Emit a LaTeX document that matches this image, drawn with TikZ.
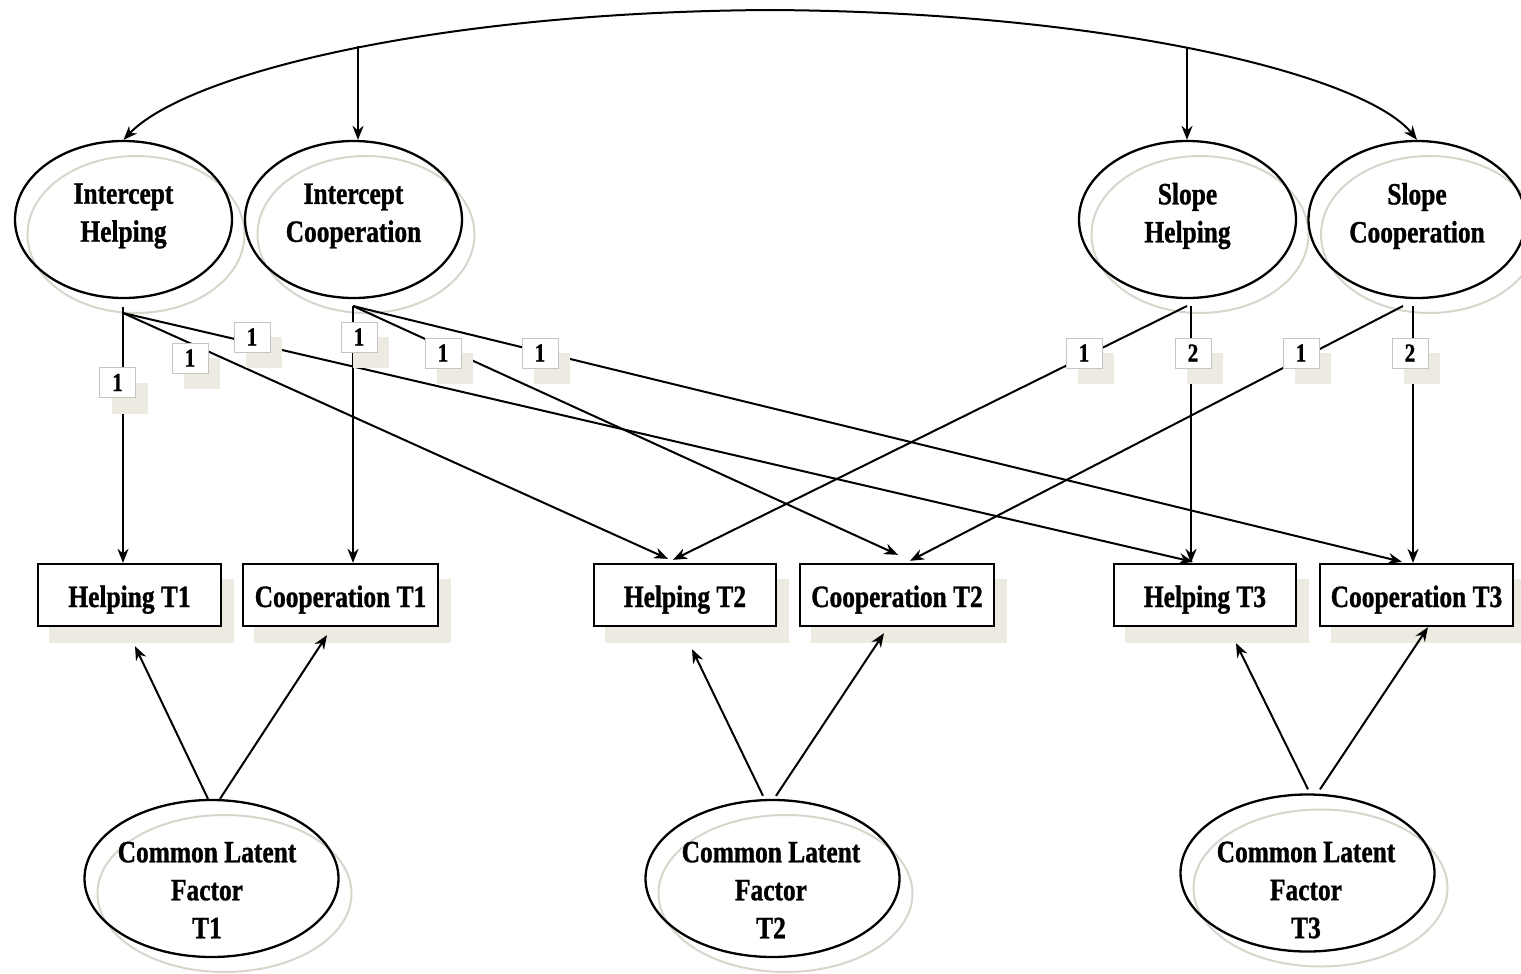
\documentclass[tikz,border=0pt]{standalone}
\usepackage{fontspec}
\newfontfamily\dfont[FakeStretch=0.82,FakeBold=1]{Liberation Serif}
\usetikzlibrary{arrows.meta,shapes.geometric,calc,backgrounds}
\definecolor{shadebg}{HTML}{ECEAE1}
\definecolor{shadeline}{HTML}{D8D6CC}
\definecolor{lblborder}{HTML}{C4C4C4}
\begin{document}
\begin{tikzpicture}[x=1pt,y=-1pt,
  lat/.style={ellipse, draw, line width=2.3pt, minimum width=217pt, minimum height=157pt, inner sep=0pt},
  clf/.style={lat, minimum width=254pt},
  txt/.style={align=center, font=\dfont\bfseries\fontsize{31}{38}\selectfont, inner sep=0pt},
  obs/.style={rectangle, draw, line width=2.3pt, fill=white, minimum height=62pt, inner sep=0pt, text height=24pt, text depth=0pt, font=\dfont\bfseries\fontsize{31}{38}\selectfont},
  arr/.style={line width=2pt, -{Stealth[length=14pt,width=11pt]}},
  lbl/.style={rectangle, draw=lblborder, line width=0.8pt, fill=white, minimum width=36pt, minimum height=30pt, inner sep=0pt, font=\dfont\bfseries\fontsize{26}{30}\selectfont},
  lshadow/.style={fill=shadebg},
  eshadow/.style={draw=shadeline, line width=2pt},
]
\useasboundingbox (0,0) rectangle (1521,974);

% latent ellipses (top)
\node[lat] (IH) at (123.5,219.5) {};
\node[lat] (IC) at (353.5,219.5) {};
\node[lat] (SH) at (1187.5,219.5) {};
\node[lat] (SC) at (1417,219.5) {};
\node[txt] (IHt) at ([yshift=3.5pt]IH.center) {Intercept\\Helping};
\node[txt] (ICt) at ([yshift=3.5pt]IC.center) {Intercept\\Cooperation};
\node[txt] (SHt) at ([yshift=3.5pt]SH.center) {Slope\\Helping};
\node[txt] (SCt) at ([yshift=3.5pt]SC.center) {Slope\\Cooperation};

% common latent factors
\node[clf] (CLF1) at (211.5,878.5) {};
\node[clf] (CLF2) at (772.5,878.5) {};
\node[clf] (CLF3) at (1307.5,873) {};
\node[txt] (CLF1t) at (207,890) {Common Latent\\Factor\\T1};
\node[txt] (CLF2t) at (771,890) {Common Latent\\Factor\\T2};
\node[txt] (CLF3t) at (1306,890) {Common Latent\\Factor\\T3};

% observed
\node[obs, minimum width=183pt] (HT1) at (129.5,595) {Helping T1};
\node[obs, minimum width=195pt] (CT1) at (340.5,595) {Cooperation T1};
\node[obs, minimum width=182pt] (HT2) at (685,595) {Helping T2};
\node[obs, minimum width=194pt] (CT2) at (897,595) {Cooperation T2};
\node[obs, minimum width=182pt] (HT3) at (1205,595) {Helping T3};
\node[obs, minimum width=193pt] (CT3) at (1416.5,595) {Cooperation T3};

\begin{pgfonlayer}{background}
  \fill[white] (0,0) rectangle (1521,974);
  \foreach \n in {HT1,CT1,HT2,CT2,HT3,CT3}
    \fill[shadebg] ($(\n.south west)+(12,16)$) rectangle ($(\n.north east)+(12,16)$);
  \foreach \n in {IH,IC,SH,SC}
    \draw[eshadow] ($(\n.center)+(12.5,15)$) ellipse [x radius=108.5pt, y radius=78.5pt];
  \foreach \n in {CLF1,CLF2,CLF3}
    \draw[eshadow] ($(\n.center)+(13,15)$) ellipse [x radius=127pt, y radius=78.5pt];
\end{pgfonlayer}

% covariance curve
\draw[line width=2pt, {Stealth[length=14pt,width=11pt]}-{Stealth[length=14pt,width=11pt]}]
  (IH.north) .. controls (185,75) and (430,12) .. (770,10)
  .. controls (1110,12) and (1365,75) .. (SC.north);
\coordinate (c1) at (358,46);
\coordinate (c2) at (1187,47);
\draw[arr] (c1) -- (c1 |- IC.north);
\draw[arr] (c2) -- (c2 |- SH.north);

% loading origins
\coordinate (IHo) at (123,307);
\coordinate (IHs) at (123,313);
\coordinate (ICo) at (353,306);
\coordinate (SHv) at (1191,306);
\coordinate (SHs) at (1187,306);
\coordinate (SCv) at (1413,306);
\coordinate (SCs) at (1403,306);

% loadings
\draw[arr] (IHo) -- (IHo |- HT1.north);
\draw[arr] (IHs) -- ([shift={(-17,-4)}]HT2.north);
\draw[arr] (IHs) -- ([shift={(-12,-1)}]HT3.north);
\draw[arr] (ICo) -- (ICo |- CT1.north);
\draw[arr] (ICo) -- ([shift={(1,-8)}]CT2.north);
\draw[arr] (ICo) -- ([shift={(-14.5,-1)}]CT3.north);
\draw[arr] (SHs) -- ([shift={(-12,-3)}]HT2.north);
\draw[arr] (SHv) -- (SHv |- HT3.north);
\draw[arr] (SCs) -- ([shift={(13,-2)}]CT2.north);
\draw[arr] (SCv) -- (SCv |- CT3.north);

% common latent factor arrows
\draw[arr] ([xshift=-3.5pt]CLF1.north) -- ([shift={(5.5,19)}]HT1.south);
\draw[arr] ([xshift=8.5pt]CLF1.north) -- ([shift={(-13.5,8)}]CT1.south);
\draw[arr] ([shift={(-9.5,-3)}]CLF2.north) -- ([shift={(7,22)}]HT2.south);
\draw[arr] ([shift={(3.5,-3)}]CLF2.north) -- ([shift={(-13,6)}]CT2.south);
\draw[arr] ([shift={(0.5,-4)}]CLF3.north) -- ([shift={(31,16)}]HT3.south);
\draw[arr] ([shift={(12.5,-4)}]CLF3.north) -- ([shift={(11.5,0)}]CT3.south);

% loading labels
\foreach \x/\y/\t/\nm in {117.5/382.5/1/L1, 190/358/1/L2, 252/337/1/L3, 359/337/1/L4,
    443/353/1/L5, 540/353/1/L6, 1084/353/1/L7, 1193/353/2/L8, 1301/353/1/L9, 1410/353/2/L10}{
  \fill[lshadow] (\x-6,\y) rectangle (\x+30,\y+31);
  \node[lbl] (\nm) at (\x,\y) {\t};
}
\end{tikzpicture}
\end{document}
